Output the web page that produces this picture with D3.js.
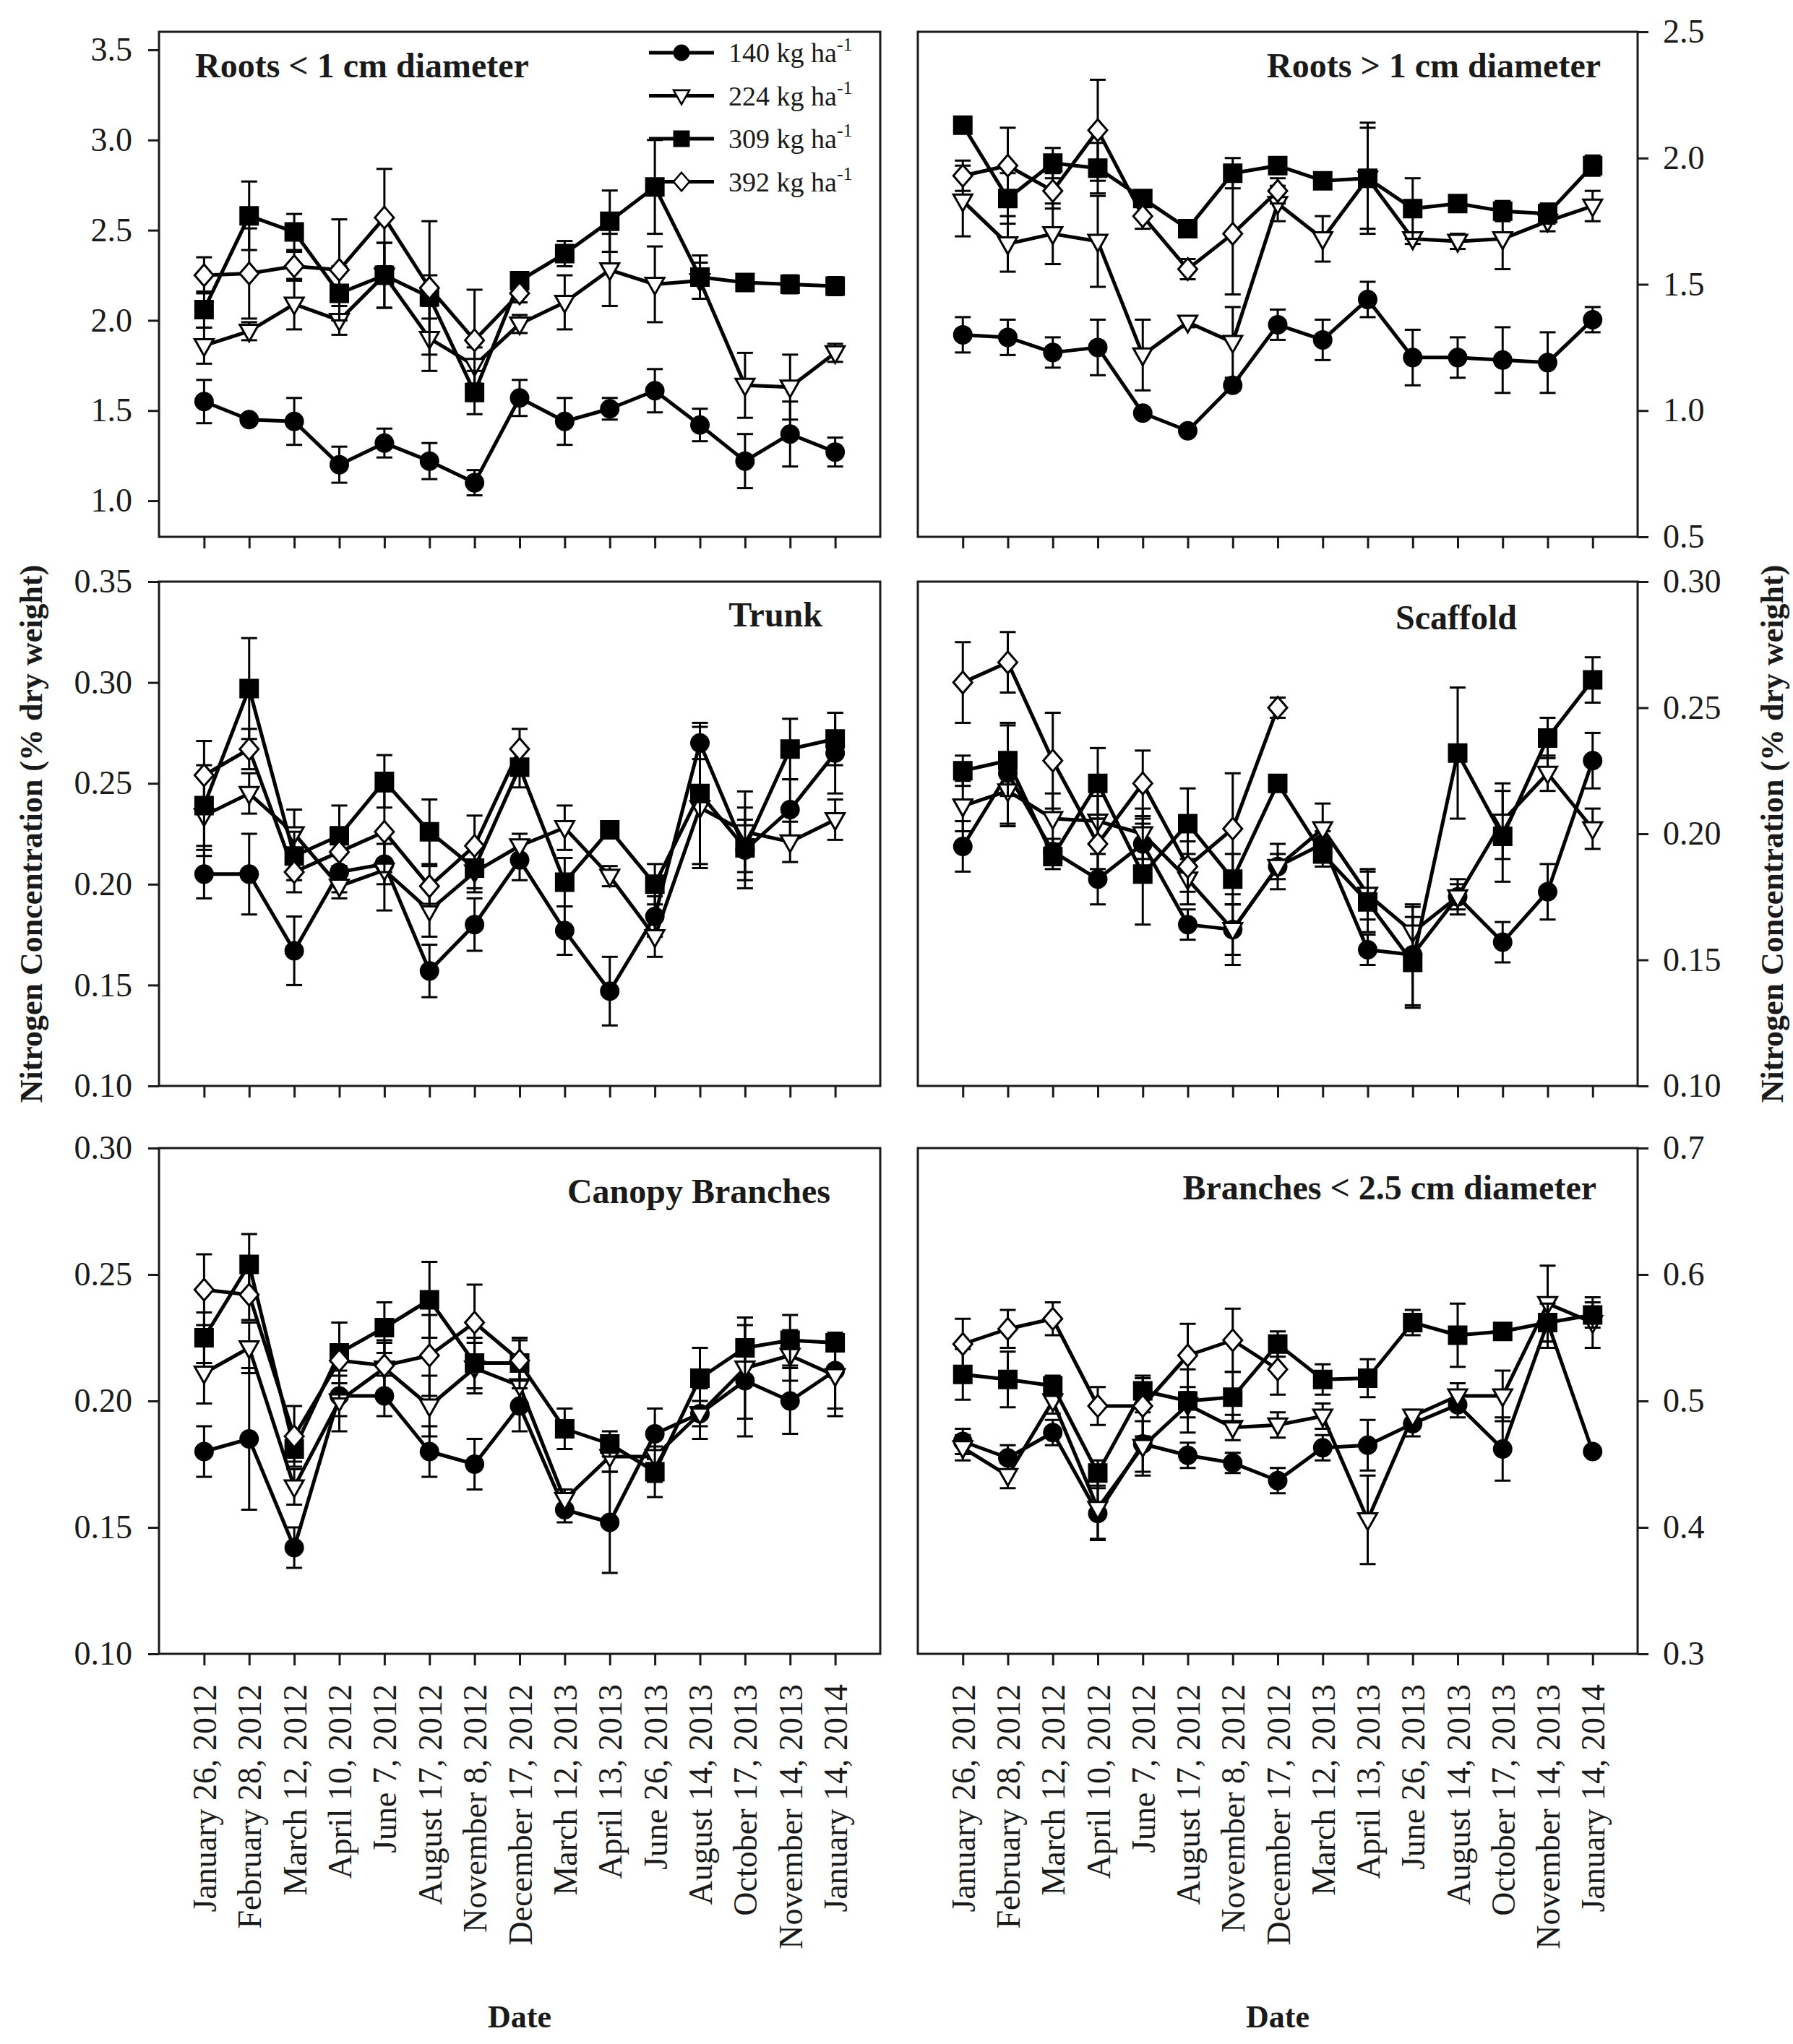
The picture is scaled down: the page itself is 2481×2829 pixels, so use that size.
<!DOCTYPE html>
<html>
<head>
<meta charset="utf-8">
<script src="https://cdnjs.cloudflare.com/ajax/libs/d3/7.8.5/d3.min.js"></script>
<style>
body { margin: 0; background: #fff; }
text { font-family: "Liberation Serif", "Times New Roman", serif; fill: #1a1a1a; }
.tick text { font-size: 46px; }
.title { font-size: 48px; font-weight: bold; }
.axisTitle { font-size: 44px; font-weight: bold; }
.legend text { font-size: 38px; }
</style>
</head>
<body>
<svg id="chart"></svg>
<script>

const dates = ["January 26, 2012", "February 28, 2012", "March 12, 2012", "April 10, 2012",
  "June 7, 2012", "August 17, 2012", "November 8, 2012", "December 17, 2012",
  "March 12, 2013", "April 13, 2013", "June 26, 2013", "August 14, 2013",
  "October 17, 2013", "November 14, 2013", "January 14, 2014"];

const rates = ["140", "224", "309", "392"];

// series order: 140, 224, 309, 392 (392 only sampled through Dec 2012)
const rootsSmallMean = [
  [1.55, 1.45, 1.44, 1.20, 1.32, 1.22, 1.10, 1.57, 1.44, 1.51, 1.61, 1.42, 1.22, 1.37, 1.27],
  [1.86, 1.94, 2.09, 2.00, 2.25, 1.90, 1.75, 1.98, 2.10, 2.28, 2.20, 2.22, 1.64, 1.63, 1.82],
  [2.06, 2.58, 2.49, 2.15, 2.25, 2.13, 1.60, 2.22, 2.37, 2.55, 2.74, 2.24, 2.21, 2.20, 2.19],
  [2.25, 2.26, 2.30, 2.28, 2.57, 2.18, 1.89, 2.15]
];
const rootsSmallErr = [
  [0.12, 0.02, 0.13, 0.10, 0.08, 0.10, 0.07, 0.10, 0.13, 0.06, 0.12, 0.09, 0.15, 0.18, 0.08],
  [0.10, 0.05, 0.14, 0.08, 0.18, 0.18, 0.10, 0.05, 0.15, 0.20, 0.21, 0.10, 0.18, 0.18, 0.05],
  [0.10, 0.19, 0.10, 0.15, 0.18, 0.12, 0.12, 0.03, 0.07, 0.17, 0.26, 0.12, 0.03, 0.05, 0.05],
  [0.10, 0.25, 0.08, 0.28, 0.27, 0.37, 0.28, 0.05]
];

const rootsLargeMean = [
  [1.30, 1.29, 1.23, 1.25, 0.99, 0.92, 1.10, 1.34, 1.28, 1.44, 1.21, 1.21, 1.20, 1.19, 1.36],
  [1.83, 1.66, 1.70, 1.67, 1.22, 1.35, 1.27, 1.82, 1.68, 1.92, 1.68, 1.67, 1.68, 1.75, 1.81],
  [2.13, 1.84, 1.98, 1.96, 1.84, 1.72, 1.94, 1.97, 1.91, 1.92, 1.80, 1.82, 1.79, 1.78, 1.97],
  [1.93, 1.97, 1.87, 2.11, 1.77, 1.56, 1.70, 1.87]
];
const rootsLargeErr = [
  [0.07, 0.07, 0.06, 0.11, 0.01, 0.01, 0.02, 0.06, 0.08, 0.07, 0.11, 0.08, 0.13, 0.12, 0.05],
  [0.14, 0.11, 0.12, 0.18, 0.14, 0.02, 0.14, 0.07, 0.09, 0.22, 0.02, 0.03, 0.12, 0.04, 0.06],
  [0.03, 0.10, 0.06, 0.10, 0.03, 0.02, 0.06, 0.02, 0.02, 0.20, 0.12, 0.03, 0.04, 0.04, 0.04],
  [0.06, 0.15, 0.07, 0.20, 0.05, 0.04, 0.24, 0.05]
];

const trunkMean = [
  [0.205, 0.205, 0.167, 0.206, 0.210, 0.157, 0.180, 0.212, 0.177, 0.147, 0.184, 0.270, 0.217, 0.237, 0.265],
  [0.234, 0.245, 0.225, 0.199, 0.207, 0.187, 0.206, 0.219, 0.228, 0.204, 0.174, 0.238, 0.226, 0.221, 0.232],
  [0.239, 0.297, 0.214, 0.224, 0.251, 0.226, 0.208, 0.258, 0.201, 0.227, 0.200, 0.245, 0.218, 0.267, 0.272],
  [0.254, 0.267, 0.206, 0.216, 0.226, 0.199, 0.219, 0.267]
];
const trunkErr = [
  [0.012, 0.020, 0.017, 0.010, 0.010, 0.013, 0.013, 0.010, 0.012, 0.017, 0.010, 0.008, 0.015, 0.015, 0.020],
  [0.020, 0.010, 0.012, 0.006, 0.020, 0.013, 0.010, 0.006, 0.011, 0.005, 0.010, 0.030, 0.020, 0.010, 0.010],
  [0.020, 0.025, 0.012, 0.015, 0.013, 0.016, 0.010, 0.010, 0.012, 0.003, 0.010, 0.035, 0.020, 0.015, 0.013],
  [0.017, 0.010, 0.010, 0.010, 0.020, 0.010, 0.015, 0.010]
];

const scaffoldMean = [
  [0.195, 0.224, 0.193, 0.182, 0.196, 0.164, 0.162, 0.187, 0.196, 0.154, 0.152, 0.175, 0.157, 0.177, 0.229],
  [0.211, 0.217, 0.206, 0.205, 0.200, 0.182, 0.162, 0.187, 0.202, 0.176, 0.161, 0.175, 0.205, 0.224, 0.202],
  [0.225, 0.229, 0.191, 0.220, 0.184, 0.204, 0.182, 0.220, 0.192, 0.173, 0.149, 0.232, 0.199, 0.238, 0.261],
  [0.260, 0.268, 0.229, 0.196, 0.220, 0.187, 0.202, 0.250]
];
const scaffoldErr = [
  [0.010, 0.020, 0.005, 0.010, 0.010, 0.006, 0.010, 0.005, 0.005, 0.006, 0.020, 0.005, 0.008, 0.011, 0.011],
  [0.010, 0.014, 0.010, 0.010, 0.010, 0.010, 0.014, 0.009, 0.010, 0.010, 0.010, 0.007, 0.015, 0.007, 0.008],
  [0.006, 0.014, 0.005, 0.014, 0.020, 0.014, 0.010, 0.003, 0.005, 0.012, 0.018, 0.026, 0.018, 0.008, 0.009],
  [0.016, 0.012, 0.019, 0.010, 0.013, 0.010, 0.022, 0.004]
];

const canopyMean = [
  [0.180, 0.185, 0.142, 0.202, 0.202, 0.180, 0.175, 0.198, 0.157, 0.152, 0.187, 0.195, 0.208, 0.200, 0.212],
  [0.211, 0.221, 0.166, 0.200, 0.213, 0.198, 0.213, 0.206, 0.161, 0.178, 0.178, 0.195, 0.213, 0.218, 0.210],
  [0.225, 0.254, 0.181, 0.219, 0.229, 0.240, 0.215, 0.215, 0.189, 0.183, 0.172, 0.209, 0.221, 0.224, 0.223],
  [0.244, 0.242, 0.186, 0.216, 0.214, 0.218, 0.231, 0.216]
];
const canopyErr = [
  [0.010, 0.028, 0.008, 0.008, 0.008, 0.010, 0.010, 0.010, 0.005, 0.020, 0.010, 0.005, 0.022, 0.013, 0.015],
  [0.012, 0.010, 0.007, 0.012, 0.010, 0.012, 0.010, 0.008, 0.004, 0.006, 0.010, 0.010, 0.020, 0.010, 0.016],
  [0.010, 0.012, 0.005, 0.012, 0.010, 0.015, 0.010, 0.010, 0.008, 0.005, 0.010, 0.012, 0.012, 0.010, 0.003],
  [0.014, 0.010, 0.012, 0.015, 0.010, 0.016, 0.015, 0.008]
];

const branchMean = [
  [0.468, 0.455, 0.475, 0.411, 0.466, 0.457, 0.451, 0.437, 0.463, 0.465, 0.482, 0.497, 0.462, 0.562, 0.460],
  [0.463, 0.441, 0.500, 0.415, 0.464, 0.497, 0.479, 0.481, 0.488, 0.406, 0.488, 0.504, 0.504, 0.577, 0.562],
  [0.521, 0.517, 0.512, 0.443, 0.508, 0.500, 0.503, 0.545, 0.517, 0.518, 0.562, 0.552, 0.555, 0.562, 0.568],
  [0.545, 0.557, 0.565, 0.496, 0.496, 0.536, 0.548, 0.525]
];
const branchErr = [
  [0.010, 0.010, 0.010, 0.020, 0.025, 0.010, 0.008, 0.010, 0.010, 0.020, 0.010, 0.010, 0.025, 0.020, 0.003],
  [0.010, 0.010, 0.010, 0.025, 0.020, 0.010, 0.010, 0.010, 0.010, 0.035, 0.005, 0.010, 0.020, 0.030, 0.020],
  [0.020, 0.022, 0.008, 0.010, 0.010, 0.025, 0.020, 0.010, 0.012, 0.015, 0.010, 0.025, 0.005, 0.015, 0.010],
  [0.020, 0.015, 0.013, 0.015, 0.024, 0.025, 0.025, 0.020]
];

const rootsSmallTicks = [1.0, 1.5, 2.0, 2.5, 3.0, 3.5];
const rootsLargeTicks = [0.5, 1.0, 1.5, 2.0, 2.5];
const trunkTicks = [0.10, 0.15, 0.20, 0.25, 0.30, 0.35];
const scaffoldTicks = [0.10, 0.15, 0.20, 0.25, 0.30];
const canopyTicks = [0.10, 0.15, 0.20, 0.25, 0.30];
const branchTicks = [0.3, 0.4, 0.5, 0.6, 0.7];

var width = 2481;
var height = 2829;

var svg = d3.select("#chart")
  .attr("width", width)
  .attr("height", height);

// panel boxes in pixels
const cols = [[220, 1218], [1270, 2266]];
const rows = [[44, 743], [805, 1503], [1589, 2289]];

const panels = [
  {title: "Roots < 1 cm diameter", mean: rootsSmallMean, err: rootsSmallErr, domain: [0.8, 3.6], ticks: rootsSmallTicks, fmt: ".1f",
   col: 0, row: 0, tx: 270, ty: 107, anchor: "start", legend: true},
  {title: "Roots > 1 cm diameter", mean: rootsLargeMean, err: rootsLargeErr, domain: [0.5, 2.5], ticks: rootsLargeTicks, fmt: ".1f",
   col: 1, row: 0, tx: 2215, ty: 107, anchor: "end"},
  {title: "Trunk", mean: trunkMean, err: trunkErr, domain: [0.10, 0.35], ticks: trunkTicks, fmt: ".2f",
   col: 0, row: 1, tx: 1138, ty: 867, anchor: "end"},
  {title: "Scaffold", mean: scaffoldMean, err: scaffoldErr, domain: [0.10, 0.30], ticks: scaffoldTicks, fmt: ".2f",
   col: 1, row: 1, tx: 2099, ty: 871, anchor: "end"},
  {title: "Canopy Branches", mean: canopyMean, err: canopyErr, domain: [0.10, 0.30], ticks: canopyTicks, fmt: ".2f",
   col: 0, row: 2, tx: 1149, ty: 1665, anchor: "end"},
  {title: "Branches < 2.5 cm diameter", mean: branchMean, err: branchErr, domain: [0.3, 0.7], ticks: branchTicks, fmt: ".1f",
   col: 1, row: 2, tx: 2209, ty: 1660, anchor: "end"}
];

// marker shapes: filled circle, open down-triangle, filled square, open diamond
const markers = [
  {path: "M0,-12A12,12 0 1,1 0,12A12,12 0 1,1 0,-12Z", fill: "#000"},
  {path: "M-13,-9L13,-9L0,14Z", fill: "#fff"},
  {path: "M-12,-12L12,-12L12,12L-12,12Z", fill: "#000"},
  {path: "M0,-15L13,0L0,15L-13,0Z", fill: "#fff"}
];

panels.forEach(p => {
  let x0 = cols[p.col][0], x1 = cols[p.col][1];
  let y0 = rows[p.row][0], y1 = rows[p.row][1];

  let x = d3.scalePoint()
    .domain(dates)
    .range([x0, x1])
    .padding(1);

  let y = d3.scaleLinear()
    .domain(p.domain)
    .range([y1, y0]);

  let g = svg.append("g");

  // y axis, outside ticks on the left or right side
  let yAxis = (p.col == 0 ? d3.axisLeft(y) : d3.axisRight(y))
    .tickValues(p.ticks)
    .tickFormat(d3.format(p.fmt))
    .tickSize(15)
    .tickSizeOuter(0)
    .tickPadding(p.col == 0 ? 22 : 20);

  g.append("g")
    .attr("transform", `translate(${p.col == 0 ? x0 : x1},0)`)
    .call(yAxis)
    .call(a => a.select(".domain").remove())
    .call(a => a.selectAll(".tick line").attr("stroke", "#1a1a1a").attr("stroke-width", 3));

  let xAxis = d3.axisBottom(x)
    .tickSize(16)
    .tickSizeOuter(0);

  let xg = g.append("g")
    .attr("transform", `translate(0,${y1})`)
    .call(xAxis)
    .call(a => a.select(".domain").remove())
    .call(a => a.selectAll(".tick line").attr("stroke", "#1a1a1a").attr("stroke-width", 3));

  if (p.row == 2) {
    xg.selectAll(".tick text")
      .attr("transform", "rotate(-90)")
      .attr("x", -42)
      .attr("y", 0)
      .attr("dy", "0.35em")
      .style("text-anchor", "end");
  } else {
    xg.selectAll(".tick text").remove();
  }

  // frame
  g.append("rect")
    .attr("x", x0)
    .attr("y", y0)
    .attr("width", x1 - x0)
    .attr("height", y1 - y0)
    .attr("fill", "none")
    .attr("stroke", "#1a1a1a")
    .attr("stroke-width", 3);

  let line = d3.line()
    .x((d, i) => x(dates[i]))
    .y(d => y(d));

  p.mean.forEach((vals, s) => {
    let errs = p.err[s];
    let pts = vals.map((v, i) => ({date: dates[i], v: v, e: errs[i]}));

    let sg = g.append("g").attr("class", "series s" + rates[s]);

    // error bars
    let eb = sg.selectAll("g.err")
      .data(pts)
      .enter()
      .append("g")
      .attr("class", "err")
      .attr("stroke", "#000")
      .attr("stroke-width", 3);

    eb.append("line")
      .attr("x1", d => x(d.date)).attr("x2", d => x(d.date))
      .attr("y1", d => y(d.v - d.e)).attr("y2", d => y(d.v + d.e));
    eb.append("line")
      .attr("x1", d => x(d.date) - 11).attr("x2", d => x(d.date) + 11)
      .attr("y1", d => y(d.v + d.e)).attr("y2", d => y(d.v + d.e));
    eb.append("line")
      .attr("x1", d => x(d.date) - 11).attr("x2", d => x(d.date) + 11)
      .attr("y1", d => y(d.v - d.e)).attr("y2", d => y(d.v - d.e));

    sg.append("path")
      .datum(vals)
      .attr("d", line)
      .attr("fill", "none")
      .attr("stroke", "#000")
      .attr("stroke-width", 5)
      .attr("stroke-linejoin", "round");

    sg.selectAll("path.mark")
      .data(pts)
      .enter()
      .append("path")
      .attr("class", "mark")
      .attr("d", markers[s].path)
      .attr("transform", d => `translate(${x(d.date)},${y(d.v)})`)
      .attr("fill", markers[s].fill)
      .attr("stroke", "#000")
      .attr("stroke-width", 3);
  });

  g.append("text")
    .attr("class", "title")
    .attr("x", p.tx)
    .attr("y", p.ty)
    .style("text-anchor", p.anchor)
    .text(p.title);

  if (p.legend) {
    let leg = g.append("g").attr("class", "legend");
    rates.forEach((r, s) => {
      let ly = 73 + s * 59.5;
      leg.append("line")
        .attr("x1", 898).attr("x2", 988)
        .attr("y1", ly).attr("y2", ly)
        .attr("stroke", "#000")
        .attr("stroke-width", 5);
      leg.append("path")
        .attr("d", markers[s].path)
        .attr("transform", `translate(943,${ly}) scale(0.85)`)
        .attr("fill", markers[s].fill)
        .attr("stroke", "#000")
        .attr("stroke-width", 3);
      let t = leg.append("text")
        .attr("x", 1008)
        .attr("y", ly + 13);
      t.append("tspan").text(r + " kg ha");
      t.append("tspan")
        .attr("dy", -16)
        .style("font-size", "26px")
        .text("-1");
    });
  }

  if (p.row == 2) {
    g.append("text")
      .attr("class", "axisTitle")
      .attr("x", (x0 + x1) / 2)
      .attr("y", 2806)
      .style("text-anchor", "middle")
      .text("Date");
  }
});

// shared y axis titles on both sides
[43, 2452].forEach(cx => {
  svg.append("text")
    .attr("class", "axisTitle")
    .attr("transform", `translate(${cx},1154) rotate(-90)`)
    .attr("dy", "0.35em")
    .style("text-anchor", "middle")
    .text("Nitrogen Concentration (% dry weight)");
});

</script>
</body>
</html>
